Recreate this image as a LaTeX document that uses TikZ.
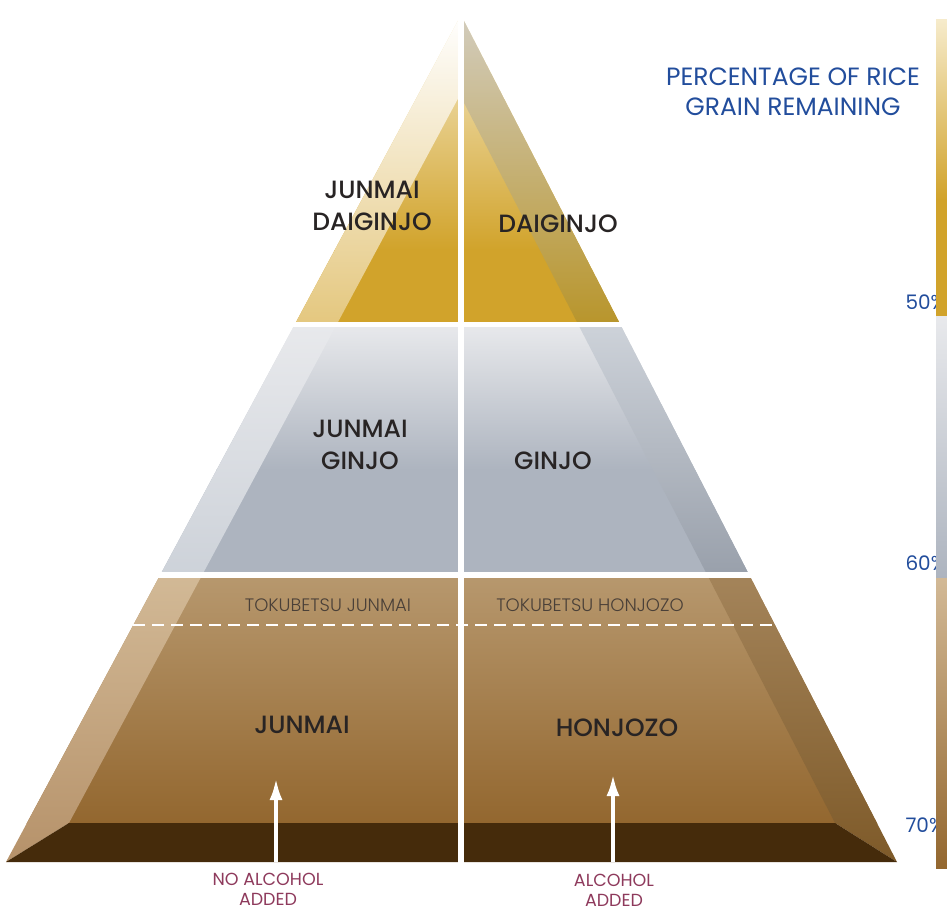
\documentclass[tikz,border=0pt]{standalone}
\usepackage{fontspec}
\newfontfamily\geo{Poppins Medium}
\newfontfamily\geolight{Poppins Light}
\newfontfamily\georeg{Poppins}
\usetikzlibrary{positioning, arrows.meta}

\definecolor{goldtop}{HTML}{F6EBCB}
\definecolor{goldmain}{HTML}{D1A32B}
\definecolor{goldlite}{HTML}{E4C77E}
\definecolor{golddark}{HTML}{B8952B}
\definecolor{goldgrey}{HTML}{D2CCBD}
\definecolor{silvertop}{HTML}{E8E9EC}
\definecolor{silvermain}{HTML}{ADB4BF}
\definecolor{silverlite}{HTML}{CDD2D9}
\definecolor{silverdark}{HTML}{99A0AB}
\definecolor{browntop}{HTML}{B7986E}
\definecolor{brownmain}{HTML}{93672F}
\definecolor{brownlite}{HTML}{D2B996}
\definecolor{brownlitebot}{HTML}{B6926A}
\definecolor{browndark}{HTML}{A4845A}
\definecolor{browndarkbot}{HTML}{7E5A29}
\definecolor{basedark}{HTML}{452B0B}
\definecolor{labelgrey}{HTML}{282424}
\definecolor{specialgrey}{HTML}{4A4038}
\definecolor{titleblue}{HTML}{224D9C}
\definecolor{addedred}{HTML}{8E3A5C}

\begin{document}
\begin{tikzpicture}[x=1pt, y=-1pt]
    \tikzset{
        grade/.style={font=\geo\fontsize{25}{32}\selectfont, text=labelgrey, align=center},
        special/.style={font=\geolight\fontsize{18}{18}\selectfont, text=specialgrey},
        added/.style={font=\georeg\fontsize{17.5}{20}\selectfont, text=addedred, align=center},
        heading/.style={font=\georeg\fontsize{25}{30}\selectfont, text=titleblue, align=center},
        pct/.style={font=\georeg\fontsize{20}{20}\selectfont, text=titleblue, anchor=west},
        gap/.style={white, line width=6pt},
        rise/.style={white, line width=4pt, -{Latex[length=22pt, width=13pt]}}
    }
    \useasboundingbox (0,0) rectangle (947,912);

    % OUTLINE POINTS
    \coordinate (apex) at (461,15);
    \coordinate (bl) at (6,862);
    \coordinate (br) at (897,862);
    \coordinate (il) at (69,823);
    \coordinate (ir) at (835,823);
    \coordinate (tl) at (461,93);
    \coordinate (tr) at (461,97);

    % FACES
    \begin{scope}
        \clip (apex) -- (bl) -- (br) -- cycle;
        \shade[top color=goldtop, bottom color=goldmain] (0,15) rectangle (947,250);
        \fill[goldmain] (0,249) rectangle (947,325);
        \shade[top color=silvertop, bottom color=silvermain] (0,325) rectangle (947,470);
        \fill[silvermain] (0,469) rectangle (947,575);
        \shade[top color=browntop, bottom color=brownmain] (0,575) rectangle (947,823);
    \end{scope}

    % LEFT BEVEL
    \begin{scope}
        \clip (apex) -- (bl) -- (il) -- (tl) -- cycle;
        \shade[top color=white, bottom color=goldlite] (0,15) rectangle (947,325);
        \shade[top color=silvertop, bottom color=silverlite] (0,325) rectangle (947,575);
        \shade[top color=brownlite, bottom color=brownlitebot] (0,575) rectangle (947,862);
    \end{scope}

    % RIGHT BEVEL
    \begin{scope}
        \clip (apex) -- (br) -- (ir) -- (tr) -- cycle;
        \shade[top color=goldgrey, bottom color=golddark] (0,15) rectangle (947,325);
        \shade[top color=silverlite, bottom color=silverdark] (0,325) rectangle (947,575);
        \shade[top color=browndark, bottom color=browndarkbot] (0,575) rectangle (947,862);
    \end{scope}

    % BASE
    \fill[basedark] (bl) -- (il) -- (ir) -- (br) -- cycle;

    % GAPS
    \draw[gap] (461,0) -- (461,866);
    \draw[white, line width=5pt] (0,324.5) -- (920,324.5);
    \draw[white, line width=6pt] (0,575) -- (920,575);
    \draw[white, line width=2.5pt, dash pattern=on 12pt off 7pt] (133,625) -- (775,625);

    % LABELS
    \node[grade] (jdaiginjo) at (372,206) {JUNMAI\\DAIGINJO};
    \node[grade] (daiginjo) at (558,224) {DAIGINJO};
    \node[grade] (jginjo) at (360,445) {JUNMAI\\GINJO};
    \node[grade] (ginjo) at (553,461) {GINJO};
    \node[special] (tokjunmai) at (328,605) {TOKUBETSU JUNMAI};
    \node[special] (tokhonjozo) at (590,605) {TOKUBETSU HONJOZO};
    \node[grade] (junmai) at (302,725) {JUNMAI};
    \node[grade] (honjozo) at (617,728) {HONJOZO};
    \node[added] (noalcohol) at (268,889) {NO ALCOHOL\\ADDED};
    \node[added] (alcohol) at (614,890) {ALCOHOL\\ADDED};
    \node[heading] (heading) at (793,92) {PERCENTAGE OF RICE\\GRAIN REMAINING};

    % ARROWS
    \coordinate (footl) at (276,862);
    \coordinate (tipl) at (276,778);
    \coordinate (footr) at (613,862);
    \coordinate (tipr) at (613,774);
    \draw[rise] (footl) -- (tipl);
    \draw[rise] (footr) -- (tipr);

    % SCALE
    \node[pct] (p50) at (902,302) {50\%};
    \node[pct] (p60) at (902,563) {60\%};
    \node[pct] (p70) at (902,825) {70\%};
    \shade[top color=goldtop, bottom color=goldmain] (936,20) rectangle (947,200);
    \fill[goldmain] (936,199) rectangle (947,316);
    \shade[top color=silvertop, bottom color=silvermain] (936,316) rectangle (947,578);
    \shade[top color=brownlite, bottom color=brownmain] (936,578) rectangle (947,868);
\end{tikzpicture}
\end{document}
